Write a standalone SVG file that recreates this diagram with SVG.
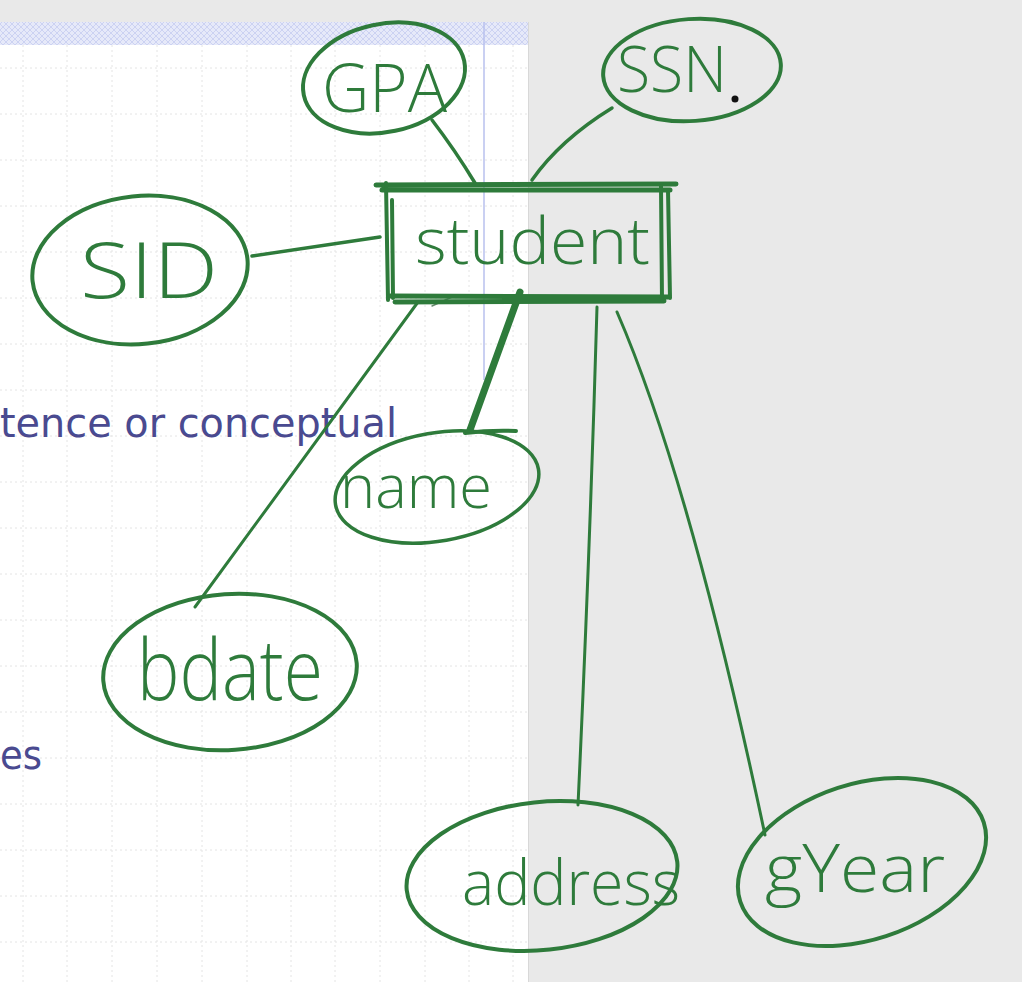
<svg xmlns="http://www.w3.org/2000/svg" width="1022" height="982" viewBox="0 0 1022 982">
<defs>
<pattern id="chk" width="6" height="6" patternUnits="userSpaceOnUse">
<rect width="6" height="6" fill="#e6e9f9"/>
<path d="M0 0L6 6M6 0L0 6" stroke="#ccd2f2" stroke-width="1"/>
</pattern>
<style>
.grid{stroke:#e4e4e4;stroke-width:1;stroke-dasharray:2 3;fill:none}
.ink{stroke:#2e7b3b;fill:none;stroke-linecap:round;stroke-linejoin:round}
.lbl{font-family:"Open Sans","Liberation Sans",sans-serif;font-weight:300;fill:#2e7b3b}
.slide{font-family:"DejaVu Sans",Tahoma,sans-serif;fill:#4a4a90}
</style>
</defs>
<rect width="1022" height="982" fill="#e9e9e9"/>
<g id="slide">
<rect x="0" y="22" width="528" height="960" fill="#ffffff"/>
<rect x="0" y="22" width="528" height="23" fill="url(#chk)"/>
<line x1="528.5" y1="22" x2="528.5" y2="982" stroke="#d8d8d8"/>
<g class="grid">
<path d="M23 45V982M67 45V982M112 45V982M157 45V982M202 45V982M247 45V982M291 45V982M335 45V982M380 45V982M425 45V982M469 45V982M513 45V982"/>
<path d="M0 68H528M0 114H528M0 160H528M0 206H528M0 252H528M0 298H528M0 344H528M0 390H528M0 436H528M0 482H528M0 528H528M0 574H528M0 620H528M0 666H528M0 712H528M0 758H528M0 804H528M0 850H528M0 896H528M0 942H528"/>
</g>
<line x1="484" y1="22" x2="484" y2="380" stroke="#b9c1ee" stroke-width="1.5"/>
<text class="slide" x="0" y="437" font-size="41" textLength="397" lengthAdjust="spacingAndGlyphs">tence or conceptual</text>
<text class="slide" x="0" y="769" font-size="41" textLength="42" lengthAdjust="spacingAndGlyphs">es</text>
</g>
<g id="connectors" class="ink">
<path d="M252 256L380 237" stroke-width="3.5"/>
<path d="M432 120Q455 150 475 183" stroke-width="3.5"/>
<path d="M612 108Q560 140 532 180" stroke-width="3.5"/>
<path d="M520 292L470 430" stroke-width="7"/>
<path d="M465 433Q490 430 516 431" stroke-width="4"/>
<path d="M418 302L195 607" stroke-width="3"/>
<path d="M432 306L452 297" stroke-width="1.5" stroke="#6a8a70"/>
<path d="M597 307Q590 550 578 805" stroke-width="3"/>
<path d="M617 312Q690 480 765 835" stroke-width="3"/>
</g>
<g id="student" class="ink">
<path d="M376 185L676 184M382 190L670 190" stroke-width="5"/>
<path d="M386 183L388 300M392 200L393 298" stroke-width="4"/>
<path d="M390 296L668 297M395 302L664 301" stroke-width="5"/>
<path d="M661 186L662 300M668 190L670 298" stroke-width="4"/>
<text class="lbl" x="415" y="264" font-size="64" textLength="235" lengthAdjust="spacingAndGlyphs" stroke="none">student</text>
</g>
<g id="gpa" class="ink">
<ellipse cx="384" cy="78" rx="82" ry="54" transform="rotate(-12 384 78)" stroke-width="4"/>
<text class="lbl" x="322" y="112" font-size="66" textLength="125" lengthAdjust="spacingAndGlyphs" stroke="none">GPA</text>
</g>
<g id="ssn" class="ink">
<ellipse cx="692" cy="70" rx="89" ry="51" transform="rotate(-4 692 70)" stroke-width="4"/>
<text class="lbl" x="617" y="92" font-size="64" textLength="110" lengthAdjust="spacingAndGlyphs" stroke="none">SSN</text>
<circle cx="735" cy="99" r="3.5" fill="#111" stroke="none"/>
</g>
<g id="sid" class="ink">
<ellipse cx="140" cy="270" rx="108" ry="74" transform="rotate(-6 140 270)" stroke-width="4"/>
<text class="lbl" x="80" y="298" font-size="78" textLength="138" lengthAdjust="spacingAndGlyphs" stroke="none">SID</text>
</g>
<g id="name" class="ink">
<ellipse cx="437" cy="487" rx="103" ry="54" transform="rotate(-10 437 487)" stroke-width="3.5"/>
<text class="lbl" x="340" y="508" font-size="60" textLength="152" lengthAdjust="spacingAndGlyphs" stroke="none">name</text>
</g>
<g id="bdate" class="ink">
<ellipse cx="230" cy="672" rx="127" ry="78" transform="rotate(-4 230 672)" stroke-width="4"/>
<text class="lbl" x="137" y="700" font-size="84" textLength="186" lengthAdjust="spacingAndGlyphs" stroke="none">bdate</text>
</g>
<g id="address" class="ink">
<ellipse cx="542" cy="876" rx="136" ry="74" transform="rotate(-6 542 876)" stroke-width="4"/>
<text class="lbl" x="462" y="905" font-size="62" textLength="218" lengthAdjust="spacingAndGlyphs" stroke="none">address</text>
</g>
<g id="gyear" class="ink">
<ellipse cx="862" cy="862" rx="128" ry="78" transform="rotate(-18 862 862)" stroke-width="4"/>
<text class="lbl" x="765" y="892" font-size="66" textLength="180" lengthAdjust="spacingAndGlyphs" stroke="none">gYear</text>
</g>
</svg>
